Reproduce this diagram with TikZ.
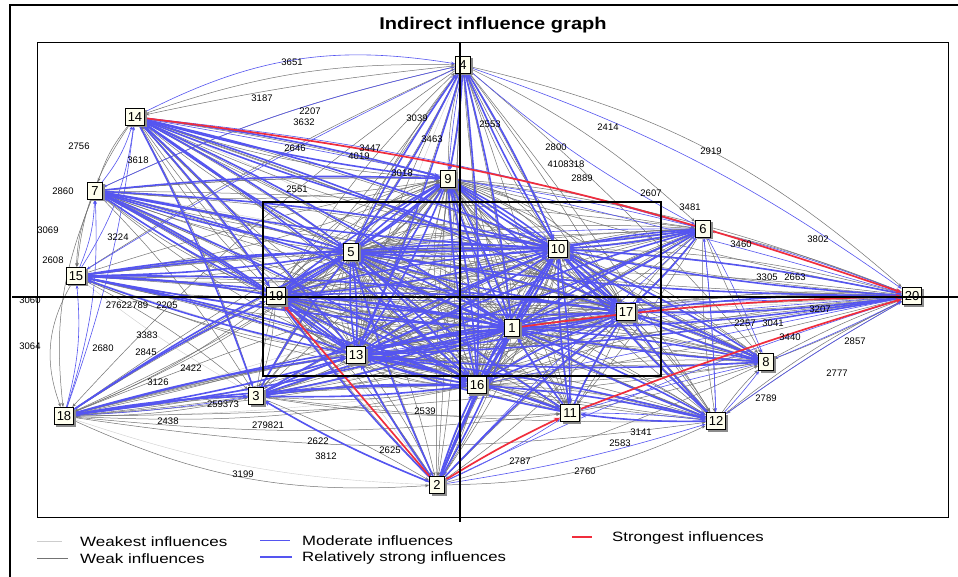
\documentclass[tikz,border=0pt]{standalone}
\usepackage{fontspec}
\setmainfont{Liberation Sans}
\usepackage{graphicx}
\usetikzlibrary{arrows.meta,shadows,backgrounds,calc}

\definecolor{micblue}{RGB}{85,85,240}
\definecolor{micred}{RGB}{240,45,60}
\definecolor{micgray}{RGB}{115,115,115}
\definecolor{miclight}{RGB}{205,205,205}
\definecolor{boxfill}{RGB}{255,255,238}

\tikzset{
  var/.style={draw=black, line width=1.1pt, fill=boxfill, font=\fontsize{13}{13}\selectfont,
    inner xsep=2.6pt, inner ysep=1.5pt, minimum height=17pt, minimum width=15pt,
    drop shadow={shadow xshift=2pt, shadow yshift=-2pt, fill=gray!90, opacity=1}},
  val/.style={font=\fontsize{9.5}{10}\selectfont, inner sep=0.5pt},
  legtext/.style={anchor=west, font=\fontsize{13.5}{14}\selectfont, inner sep=0pt},
  weakest/.style={draw=miclight, line width=0.4pt, -{Stealth[length=3pt,width=2.5pt]}},
  weak/.style={draw=micgray, line width=0.5pt, -{Stealth[length=4pt,width=3pt]}},
  moderate/.style={draw=micblue, line width=0.6pt, -{Stealth[length=4pt,width=3pt]}},
  relstrong/.style={draw=micblue, line width=1.6pt, -{Stealth[length=6pt,width=5pt]}},
  strongest/.style={draw=micred, line width=1.7pt, -{Stealth[length=6pt,width=5pt]}},
  axis/.style={line width=2.3pt, black},
}

\begin{document}
\begin{tikzpicture}[x=1pt,y=-1pt]
\useasboundingbox (0,0) rectangle (958,577);
\begin{scope}[on background layer]
  \fill[white] (0,0) rectangle (958,577);
\end{scope}

% frame and plot area
\draw[line width=2pt] (10,577) -- (10,5) -- (958,5);
\draw[line width=0.8pt] (37,42) rectangle (948,517);
\node[font=\bfseries\fontsize{17}{17}\selectfont] (title) at (493,25) {\scalebox{1.18}[1]{Indirect influence graph}};

% variables
\node[var] (n1) at (512,328) {1};
\node[var] (n2) at (437,485) {2};
\node[var] (n3) at (256,396) {3};
\node[var] (n4) at (463,65) {4};
\node[var] (n5) at (351,252) {5};
\node[var] (n6) at (703,229) {6};
\node[var] (n7) at (95,191) {7};
\node[var] (n8) at (766,362) {8};
\node[var] (n9) at (448,179) {9};
\node[var] (n10) at (558,249) {10};
\node[var] (n11) at (570,413) {11};
\node[var] (n12) at (716,421) {12};
\node[var] (n13) at (356,355) {13};
\node[var] (n14) at (135,117) {14};
\node[var] (n15) at (76,276) {15};
\node[var] (n16) at (477,385) {16};
\node[var] (n17) at (626,312) {17};
\node[var] (n18) at (64,416) {18};
\node[var] (n19) at (276,296) {19};
\node[var] (n20) at (912,296) {20};

\begin{scope}[on background layer]
  % weakest
  \foreach \a/\b/\bb in {14/1/8, 7/17/4, 15/11/-3, 18/16/-4, 2/9/3, 4/13/-3, 20/19/4, 12/19/4,
      8/5/-3, 6/13/3, 3/17/-3, 11/9/3, 18/10/-5, 15/16/-4, 14/17/3, 18/2/-8, 15/3/-4, 14/2/2}
    \draw[weakest] (n\a) to[bend left=\bb] (n\b);
  % weak
  \foreach \a in {4,14,7,15,18,3,2,12,8,20,6,11}{
    \foreach \b in {1,5,9,10,13,16,17,19}{
      \draw[weak] (n\a) to[bend left=3] (n\b);
      \draw[weak] (n\b) to[bend left=7] (n\a);
    }
  }
  \foreach \a in {1,5,9,10,13,16,17,19}{
    \foreach \b in {1,5,9,10,13,16,17,19}{
      \ifnum\a=\b\relax\else
        \draw[weak] (n\a) to[bend left=14] (n\b);
        \draw[weak] (n\a) to[bend left=24] (n\b);
      \fi
    }
  }
  \foreach \a/\b/\bb in {4/20/14, 4/6/8, 14/4/10, 7/4/6, 15/4/4, 4/8/4, 4/12/3, 4/11/2, 4/3/-3,
      4/2/0, 15/18/-25, 7/18/-14, 18/2/-14, 18/3/-6, 18/11/-6, 2/12/-12, 12/20/6, 8/20/4,
      12/8/5, 6/8/-4, 6/12/-5, 20/8/3, 11/12/-4, 3/2/4, 14/7/-10, 7/15/-10, 14/15/-14,
      15/3/6, 7/3/6, 14/3/5, 3/11/-6, 18/12/-8, 14/9/4, 7/9/3, 15/6/2, 18/8/-4,
      4/14/-3, 4/18/-6, 3/12/-4, 2/8/-5, 11/8/-3, 6/11/4, 20/12/-3, 20/6/-4, 7/6/3, 14/8/2}
    \draw[weak] (n\a) to[bend left=\bb] (n\b);
  % moderate
  \foreach \a/\b/\bb in {14/4/18, 7/14/-10, 15/7/-10, 15/14/-12, 18/15/-10, 18/7/-10, 14/6/5,
      4/6/-6, 4/20/8, 6/20/3, 2/11/-4, 2/12/-4, 2/20/4, 12/20/3, 8/20/-2, 6/8/3, 6/12/2,
      12/8/-3, 3/18/3, 3/2/-4, 4/7/-6, 4/15/-3, 9/6/3, 5/6/4, 13/20/2, 16/20/0, 19/20/-2,
      5/20/-4, 14/20/3, 11/12/3, 2/16/-3, 4/9/-3, 18/14/-6, 2/6/3, 12/6/-2, 11/8/2}
    \draw[moderate] (n\a) to[bend left=\bb] (n\b);
  % relatively strong
  \foreach \a in {1,5,9,10,13,16,17,19}{
    \foreach \b in {1,5,9,10,13,16,17,19}{
      \ifnum\a=\b\relax\else
        \draw[relstrong] (n\a) to[bend left=5] (n\b);
      \fi
    }
  }
  \foreach \a/\b in {14/5, 14/13, 14/19, 14/10, 14/1, 14/9, 14/16, 14/3, 14/17,
      7/5, 7/10, 7/13, 7/19, 7/1, 7/9, 7/16, 15/5, 15/19, 15/13, 15/10, 15/17, 15/1, 15/16,
      18/3, 18/13, 18/19, 18/1, 18/5, 18/16, 2/3, 2/13, 2/5, 2/1, 2/16, 2/10, 2/19, 2/17,
      3/13, 3/1, 3/10, 3/5, 3/16, 4/9, 4/5, 4/10, 4/1, 4/16, 4/13, 6/10, 6/1, 6/17, 6/5, 6/13,
      20/1, 20/10, 20/17, 20/13, 20/5, 8/1, 8/10, 8/17, 8/13, 12/11, 12/1, 12/10, 12/17,
      11/1, 11/10, 11/13, 11/5, 11/17, 5/7, 10/7, 1/15, 13/15, 10/14, 13/18, 1/18, 5/14,
      1/6, 10/6, 13/6, 1/8, 10/8, 17/8, 1/12, 13/12, 16/12, 10/11, 13/11, 16/11,
      5/15, 19/7, 16/3, 1/3, 9/14, 17/20, 10/20, 1/2, 5/4, 10/4}
    \draw[relstrong] (n\a) to[bend left=4] (n\b);
  % strongest
  \draw[strongest] (n14) to[bend left=6] (n20);
  \draw[strongest] (n1) to[bend left=3] (n20);
  \draw[strongest] (n2) to[bend left=3] (n11);
  \draw[strongest] (n11) to[bend left=2] (n20);
  \draw[strongest] (n2) -- (n19);
\end{scope}

% influence values
\foreach \x/\y/\t [count=\i] in {292/62/3651, 262/98/3187, 310/111/2207, 304/122/3632,
    417/118/3039, 432/139/3463, 79/146/2756, 138/160/3618, 370/148/3447, 359/156/4019,
    63/191/2860, 48/230/3069, 53/260/2608, 118/237/3224, 30/300/3060, 30/346/3064,
    103/348/2680, 147/335/3383, 146/352/2845, 191/368/2422, 158/382/3126, 168/421/2438,
    268/425/279821, 223/404/259373, 318/441/2622, 326/456/3812, 243/474/3199, 390/450/2625,
    425/411/2539, 490/124/2553, 608/127/2414, 711/151/2919, 556/147/2800, 566/164/4108318,
    582/178/2889, 651/193/2607, 690/207/3481, 741/244/3460, 818/239/3802, 767/277/3305,
    795/277/2663, 820/309/3207, 745/323/2257, 773/323/3041, 790/337/3440, 855/341/2857,
    837/373/2777, 766/398/2789, 641/432/3141, 620/443/2583, 520/461/2787, 585/471/2760,
    295/148/2646, 297/189/2551, 402/173/3018, 127/305/27622789, 167/305/2205}
  \node[val] (v\i) at (\x,\y) {\t};

% axes and quadrant box
\draw[axis] (460,42) -- (460,522);
\draw[axis] (12,297) -- (958,297);
\draw[axis] (263,202) rectangle (661,376);

% legend
\draw[draw=miclight, line width=0.6pt] (37,541) -- (62,541) coordinate (k1);
\node[legtext] (l1) at (80,542) {\scalebox{1.26}[1]{Weakest influences}};
\draw[draw=micgray, line width=0.7pt] (37,558) -- (68,558) coordinate (k2);
\node[legtext] (l2) at (80,559) {\scalebox{1.26}[1]{Weak influences}};
\draw[draw=micblue, line width=0.8pt] (260,540) -- (290,540) coordinate (k3);
\node[legtext] (l3) at (302,541) {\scalebox{1.24}[1]{Moderate influences}};
\draw[draw=micblue, line width=1.6pt] (260,557) -- (292,557) coordinate (k4);
\node[legtext] (l4) at (302,558) {\scalebox{1.24}[1]{Relatively strong influences}};
\draw[draw=micred, line width=1.4pt] (572,537) -- (592,537) coordinate (k5);
\node[legtext] (l5) at (612,538) {\scalebox{1.24}[1]{Strongest influences}};
\end{tikzpicture}
\end{document}
